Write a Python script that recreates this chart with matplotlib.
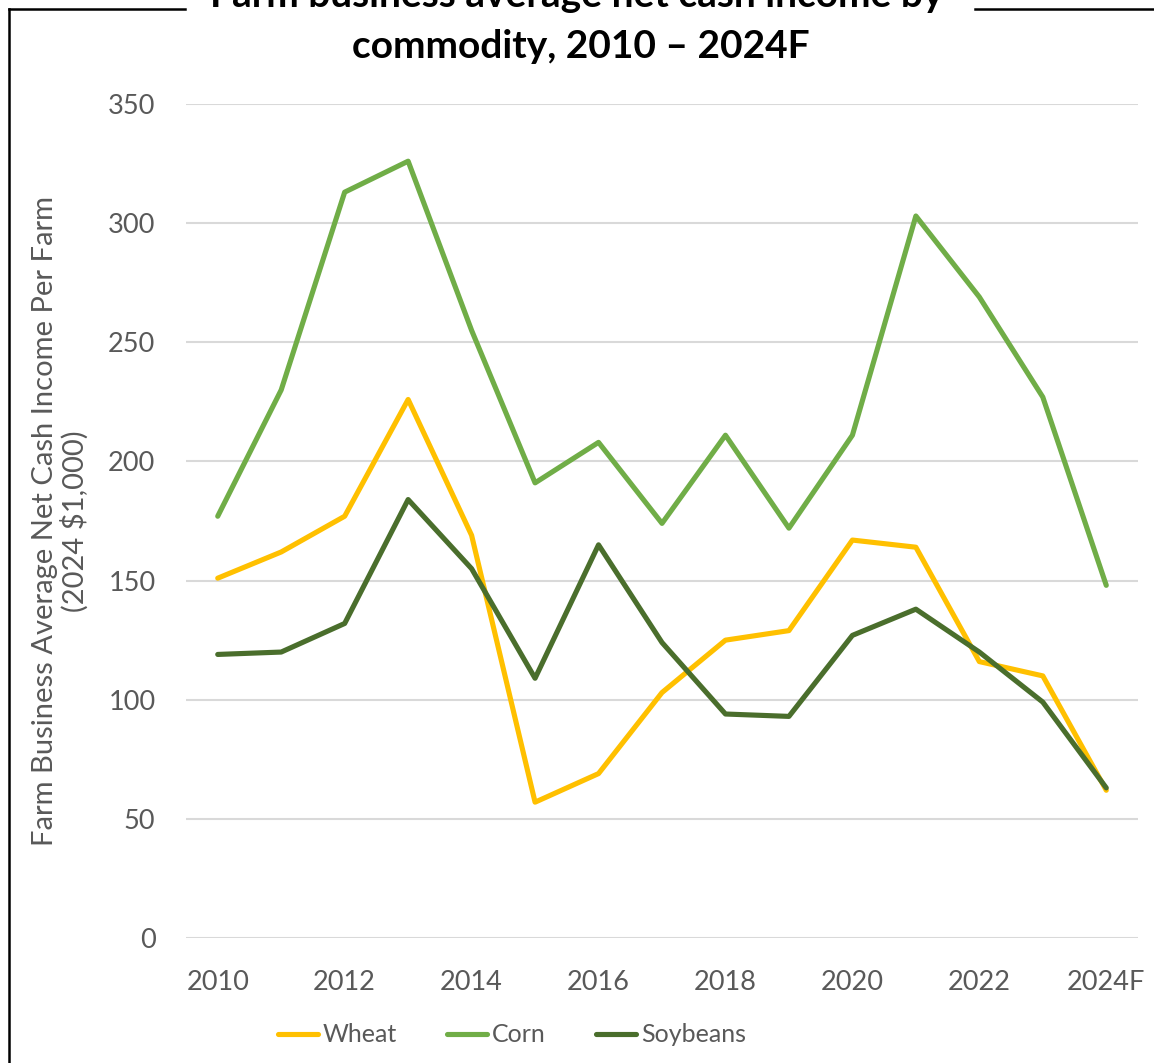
import matplotlib.pyplot as plt
from matplotlib.lines import Line2D

plt.rcParams['font.family'] = ['Lato', 'DejaVu Sans']

years = ['2010', '2011', '2012', '2013', '2014', '2015', '2016', '2017',
         '2018', '2019', '2020', '2021', '2022', '2023', '2024F']
wheat = [151, 162, 177, 226, 169, 57, 69, 103, 125, 129, 167, 164, 116, 110, 62]
corn = [177, 230, 313, 326, 255, 191, 208, 174, 211, 172, 211, 303, 269, 227, 148]
soybeans = [119, 120, 132, 184, 155, 109, 165, 124, 94, 93, 127, 138, 120, 99, 63]
y_ticks = [0, 50, 100, 150, 200, 250, 300, 350]

W, H = 1154, 1063
fig = plt.figure(figsize=(W / 100, H / 100), dpi=100)
ax = fig.add_axes([186 / W, 1 - 938 / H, 952 / W, 834 / H])

x = list(range(len(years)))
series = [('Wheat', wheat, '#FFC000'),
          ('Corn', corn, '#70AD47'),
          ('Soybeans', soybeans, '#4A6E2C')]
for name, vals, color in series:
    ax.plot(x, vals, color=color, lw=3.7, label=name,
            solid_joinstyle='round', solid_capstyle='round')

ax.set_xlim(-0.5, len(years) - 0.5)
ax.set_ylim(0, 350)
ax.set_yticks(y_ticks)
ax.set_xticks(x[::2])
ax.set_xticklabels(years[::2])
ax.grid(axis='y', color='#D9D9D9', lw=1.5)
ax.set_axisbelow(True)
for s in ax.spines.values():
    s.set_visible(False)
ax.tick_params(length=0, labelsize=19.5, labelcolor='#595959')
ax.tick_params(axis='y', pad=22)
ax.tick_params(axis='x', pad=23)

ax.set_ylabel('Farm Business Average Net Cash Income Per Farm\n(2024 $1,000)',
              fontsize=21, color='#595959', linespacing=1.1)
ax.yaxis.set_label_coords((89 - 186) / 952, 0.5)

leg = ax.legend(loc='center', bbox_to_anchor=(512 / W, 1 - 1035 / H),
                bbox_transform=fig.transFigure, ncol=3, frameon=False,
                fontsize=18, handlelength=1.6, handletextpad=0.2,
                columnspacing=2.0)
for t in leg.get_texts():
    t.set_color('#595959')

# chart border, broken where the title sits
fig.add_artist(Line2D([9 / W, 9 / W], [1 - 9 / H, 0], transform=fig.transFigure,
                      color='black', lw=1.8))
fig.add_artist(Line2D([9 / W, 185 / W], [1 - 9 / H, 1 - 9 / H],
                      transform=fig.transFigure, color='black', lw=1.8))
fig.add_artist(Line2D([975 / W, 1], [1 - 9 / H, 1 - 9 / H],
                      transform=fig.transFigure, color='black', lw=1.8))

fig.text(577 / W, 1 - 7 / H, 'Farm business average net cash income by',
         ha='center', va='baseline', fontsize=28, fontweight='bold')
fig.text(581 / W, 1 - 58 / H, 'commodity, 2010 \u2013 2024F',
         ha='center', va='baseline', fontsize=28, fontweight='bold')

fig.savefig('out.png', dpi=100)
